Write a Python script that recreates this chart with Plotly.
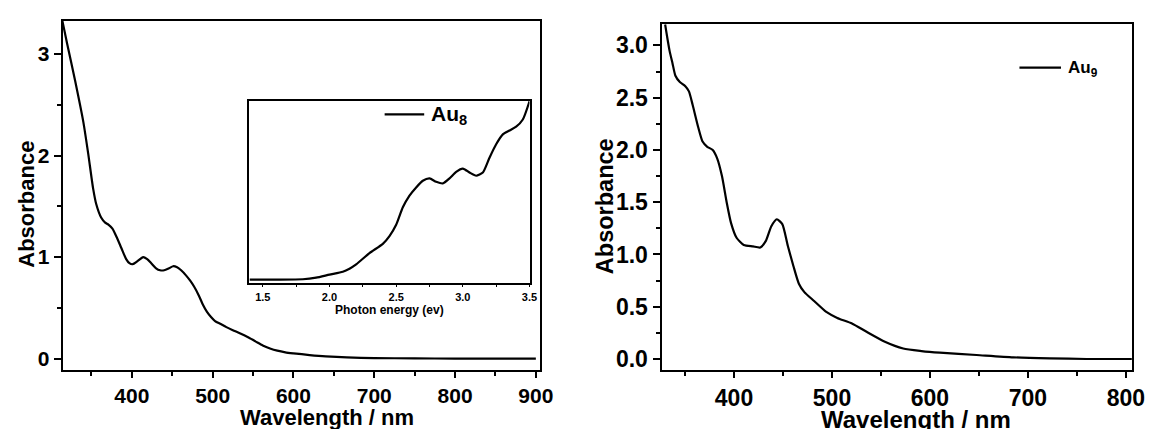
import plotly.graph_objects as go

# Au8 absorption spectrum (main left panel)
au8_wavelength = [314, 320, 330, 340, 346, 352, 356, 362, 367, 371, 376, 381, 387, 393, 397,
                  401, 407, 414, 419, 424, 430, 435, 440, 446, 451, 456, 461, 467, 472, 477,
                  483, 488, 493, 498, 503, 510, 517, 525, 535, 545, 553, 562, 571, 580, 590,
                  600, 620, 640, 666, 700, 750, 800, 850, 900]
au8_absorbance = [3.33, 3.10, 2.73, 2.33, 2.02, 1.68, 1.52, 1.39, 1.34, 1.32, 1.28, 1.20, 1.09, 0.98, 0.94,
                  0.93, 0.96, 1.00, 0.98, 0.94, 0.89, 0.87, 0.87, 0.89, 0.91, 0.90, 0.87, 0.82, 0.77, 0.71,
                  0.62, 0.53, 0.46, 0.41, 0.37, 0.34, 0.31, 0.28, 0.245, 0.205, 0.17, 0.13, 0.10, 0.078, 0.062,
                  0.052, 0.035, 0.022, 0.012, 0.005, 0.002, 0.0, 0.0, 0.0]

# Au8 spectrum on the photon-energy scale (inset)
au8_energy = [1.40, 1.60, 1.80, 1.90, 2.00, 2.10, 2.15, 2.20, 2.30, 2.40, 2.45, 2.50, 2.55, 2.60,
              2.65, 2.70, 2.75, 2.80, 2.85, 2.90, 2.95, 3.00, 3.05, 3.10, 3.15, 3.20, 3.25, 3.30,
              3.35, 3.40, 3.45, 3.50]
au8_energy_abs = [0.0, 0.0, 0.002, 0.011, 0.028, 0.044, 0.061, 0.085, 0.148, 0.20, 0.243, 0.306, 0.404, 0.469,
                  0.515, 0.552, 0.565, 0.546, 0.537, 0.565, 0.602, 0.620, 0.598, 0.580, 0.598, 0.681, 0.756, 0.811,
                  0.833, 0.854, 0.894, 0.996]

# Au9 absorption spectrum (right panel)
au9_wavelength = [329.7, 334.2, 337.2, 340.2, 344.7, 350.3, 354, 357.8, 363.4, 367.9, 372.7, 378.3, 382.8,
                  387.7, 392.5, 397, 402.6, 410, 419.4, 426.9, 432.5, 438.1, 443.7, 449.3, 454.9, 460.6,
                  466.2, 471.8, 481.1, 494.2, 505.4, 520.4, 535.3, 554, 572.7, 591.4, 610, 647.5, 685,
                  722.4, 759.8, 806]
au9_absorbance = [3.20, 2.95, 2.83, 2.71, 2.65, 2.61, 2.56, 2.43, 2.22, 2.08, 2.03, 2.00, 1.92,
                  1.75, 1.50, 1.30, 1.16, 1.09, 1.077, 1.067, 1.13, 1.27, 1.337, 1.29, 1.083, 0.89,
                  0.72, 0.64, 0.56, 0.45, 0.393, 0.34, 0.26, 0.165, 0.10, 0.076, 0.06, 0.038, 0.016,
                  0.006, 0.0, 0.0]

left_xticks = [400, 500, 600, 700, 800, 900]
left_yticks = [0, 1, 2, 3]
right_xticks = [400, 500, 600, 700, 800]
right_yticks = [0.0, 0.5, 1.0, 1.5, 2.0, 2.5, 3.0]
inset_xticks = [1.5, 2.0, 2.5, 3.0, 3.5]

au8_label = "Au<sub>8</sub>"
au9_label = "Au<sub>9</sub>"

W, H = 1161, 429
FONT = "Arial, Liberation Sans, sans-serif"


def px_x(p):
    return p / W


def px_y(p):
    return (H - p) / H


fig = go.Figure()
line_style = dict(color="black", width=2.2, shape="spline", smoothing=0.6)

fig.add_trace(go.Scatter(x=au8_wavelength, y=au8_absorbance, mode="lines", line=line_style,
                         xaxis="x", yaxis="y", showlegend=False))
fig.add_trace(go.Scatter(x=au8_energy, y=au8_energy_abs, mode="lines", line=line_style,
                         xaxis="x3", yaxis="y3", name=au8_label, showlegend=False))
fig.add_trace(go.Scatter(x=au9_wavelength, y=au9_absorbance, mode="lines", line=line_style,
                         xaxis="x2", yaxis="y2", name=au9_label, showlegend=False))

axis_common = dict(showline=True, linecolor="black", linewidth=2, mirror=True, showgrid=False,
                   zeroline=False, ticks="outside", tickcolor="black", tickwidth=2)

left_font = dict(family=FONT, size=21, color="black", weight="bold")
right_font = dict(family=FONT, size=23, color="black", weight="bold")


def legend_key(x0, x1, y, label, size):
    """Legend sample line plus its label, placed in paper pixels."""
    fig.add_shape(type="line", xref="paper", yref="paper",
                  x0=px_x(x0), x1=px_x(x1), y0=px_y(y), y1=px_y(y),
                  line=dict(color="black", width=2.2))
    fig.add_annotation(text=label, x=px_x(x1 + 5), y=px_y(y + 1), xref="paper", yref="paper",
                       showarrow=False, xanchor="left", yanchor="middle",
                       font=dict(family=FONT, size=size, color="black", weight="bold"))


fig.update_layout(
    width=W, height=H,
    margin=dict(l=0, r=0, t=0, b=0),
    paper_bgcolor="white", plot_bgcolor="white",
    showlegend=False,
    xaxis=dict(**axis_common, domain=[px_x(63.3), px_x(546)], anchor="y",
               range=[314.3, 905], tickvals=left_xticks, ticklen=6, tickfont=left_font,
               minor=dict(ticks="outside", dtick=50, tick0=0, ticklen=4, tickwidth=2, tickcolor="black")),
    yaxis=dict(**axis_common, domain=[px_y(372), px_y(20.7)], anchor="x",
               range=[-0.115, 3.33], tickvals=left_yticks, ticklen=7, tickfont=left_font,
               minor=dict(ticks="outside", dtick=0.5, tick0=0, ticklen=4, tickwidth=2, tickcolor="black")),
    xaxis2=dict(**axis_common, domain=[px_x(669), px_x(1145)], anchor="y2",
                range=[326, 806.4], tickvals=right_xticks, ticklen=6, tickfont=right_font,
                minor=dict(ticks="outside", dtick=50, tick0=0, ticklen=4, tickwidth=2, tickcolor="black")),
    yaxis2=dict(**axis_common, domain=[px_y(371.7), px_y(24)], anchor="x2",
                range=[-0.105, 3.206], tickvals=right_yticks, tickformat=".1f", ticklen=7,
                tickfont=right_font,
                minor=dict(ticks="outside", dtick=0.25, tick0=0, ticklen=4, tickwidth=2, tickcolor="black")),
    xaxis3=dict(showline=True, linecolor="black", linewidth=1.5, mirror=True, showgrid=False,
                zeroline=False, ticks="outside", tickcolor="black", tickwidth=1, ticklen=3,
                domain=[px_x(252.3), px_x(535.5)], anchor="y3", range=[1.4, 3.5],
                tickvals=inset_xticks, tickformat=".1f",
                tickfont=dict(family=FONT, size=11, color="black", weight="bold"),
                minor=dict(ticks="outside", dtick=0.25, tick0=0, ticklen=3, tickwidth=1, tickcolor="black")),
    yaxis3=dict(showline=True, linecolor="black", linewidth=1.5, mirror=True, showgrid=False,
                zeroline=False, ticks="", showticklabels=False,
                domain=[px_y(284), px_y(101)], anchor="x3", range=[-0.017, 1.0]),
    annotations=[
        dict(text="Absorbance", x=px_x(26), y=px_y(205), xref="paper", yref="paper",
             textangle=-90, showarrow=False, xanchor="center", yanchor="middle",
             font=dict(family=FONT, size=22, color="black", weight="bold")),
        dict(text="Wavelength / nm", x=px_x(331), y=px_y(419), xref="paper", yref="paper",
             showarrow=False, xanchor="center", yanchor="middle",
             font=dict(family=FONT, size=22, color="black", weight="bold")),
        dict(text="Absorbance", x=px_x(612), y=px_y(207), xref="paper", yref="paper",
             textangle=-90, showarrow=False, xanchor="center", yanchor="middle",
             font=dict(family=FONT, size=23.5, color="black", weight="bold")),
        dict(text="Wavelength / nm", x=px_x(926), y=px_y(421.5), xref="paper", yref="paper",
             showarrow=False, xanchor="center", yanchor="middle",
             font=dict(family=FONT, size=24, color="black", weight="bold")),
        dict(text="Photon energy (ev)", x=px_x(394), y=px_y(311), xref="paper", yref="paper",
             showarrow=False, xanchor="center", yanchor="middle",
             font=dict(family=FONT, size=12, color="black", weight="bold")),
    ],
)

legend_key(389, 429, 115, au8_label, 21)
legend_key(1031, 1073, 68, au9_label, 17)

fig.write_html("out.html")
